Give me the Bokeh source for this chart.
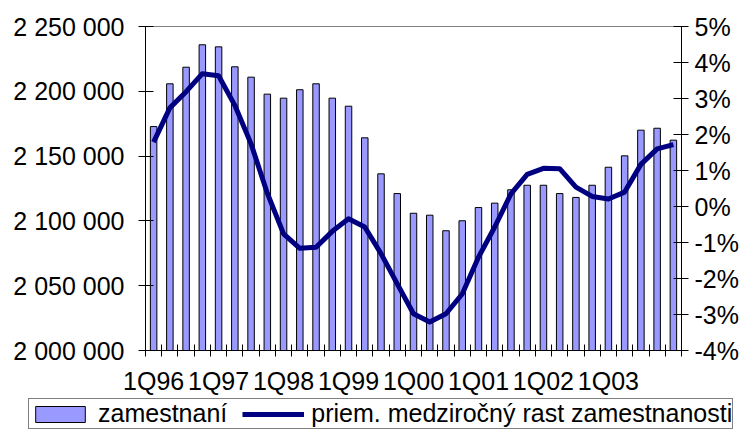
from bokeh.plotting import figure
from bokeh.layouts import column
from bokeh.models import (Range1d, LinearAxis, FixedTicker, Legend, LegendItem,
                          ColumnDataSource)
from bokeh.embed import file_html
from bokeh.resources import INLINE

# ---------------- data ----------------
years = ["96", "97", "98", "99", "00", "01", "02", "03", "04"]
quarters = [f"{q}Q{y}" for y in years for q in range(1, 5)][:33]

employed = [2172800, 2205800, 2218600, 2235900, 2234300, 2218900, 2210900,
            2197800, 2194700, 2201200, 2205800, 2194700, 2188500, 2164100,
            2136300, 2121100, 2105900, 2104400, 2092400, 2100100, 2110300,
            2113700, 2124000, 2127500, 2127500, 2121100, 2118100, 2127500,
            2141400, 2150200, 2170000, 2171500, 2162300]

growth = [1.79, 2.74, 3.19, 3.69, 3.63, 2.81, 1.74, 0.37, -0.76, -1.16,
          -1.13, -0.69, -0.34, -0.57, -1.31, -2.15, -2.98, -3.21, -2.98,
          -2.43, -1.41, -0.57, 0.35, 0.89, 1.06, 1.05, 0.54, 0.28, 0.21,
          0.40, 1.17, 1.60, 1.72]

label_quarters = ["1Q96", "1Q97", "1Q98", "1Q99", "1Q00", "1Q01", "1Q02", "1Q03"]

left_ticks = [2000000, 2050000, 2100000, 2150000, 2200000, 2250000]
left_labels = ["2 000 000", "2 050 000", "2 100 000", "2 150 000",
               "2 200 000", "2 250 000"]
right_ticks = [-4, -3, -2, -1, 0, 1, 2, 3, 4, 5]
right_labels = ["-4%", "-3%", "-2%", "-1%", "0%", "1%", "2%", "3%", "4%", "5%"]

series_bar = "zamestnaní"
series_line = "priem. medziročný rast zamestnanosti"

# ---------------- styles ----------------
FONT = "Liberation Sans"
BAR_FILL = "#9999FF"
LINE_COLOR = "#000080"
W = 741

# ---------------- main chart ----------------
n = len(quarters)
xs = [i + 0.5 for i in range(n)]
src = ColumnDataSource(data=dict(x=xs, employed=employed, growth=growth,
                                 q=quarters))

p = figure(width=W, height=397, output_backend="svg", toolbar_location=None,
           x_range=Range1d(0, n), y_range=Range1d(2000000, 2250000),
           min_border_left=145, min_border_right=58, min_border_top=26,
           min_border_bottom=47)
p.frame_align = False
p.background_fill_color = "white"
p.border_fill_color = "white"
p.outline_line_color = "#808080"
p.xgrid.visible = False
p.ygrid.visible = False

p.extra_y_ranges = {"pct": Range1d(-4, 5)}

p.vbar(x="x", top="employed", bottom=2000000, width=0.4,
       fill_color=BAR_FILL, line_color="black", line_width=1, source=src)
p.line(x="x", y="growth", y_range_name="pct", line_color=LINE_COLOR,
       line_width=5, line_join="round", source=src)

# x axis
xa = p.xaxis[0]
tick_pos = [xs[quarters.index(q)] for q in label_quarters]
xa.ticker = FixedTicker(ticks=tick_pos, minor_ticks=list(range(n + 1)))
xa.major_label_overrides = {t: l for t, l in zip(tick_pos, label_quarters)}
xa.major_tick_in = 0
xa.major_tick_out = 0
xa.minor_tick_in = 6
xa.minor_tick_out = 6
xa.minor_tick_line_color = "black"
xa.major_label_standoff = 10

# left axis
ya = p.yaxis[0]
ya.ticker = FixedTicker(ticks=left_ticks)
ya.major_label_overrides = {t: l for t, l in zip(left_ticks, left_labels)}
ya.major_tick_in = 8
ya.major_tick_out = 7
ya.minor_tick_line_color = None
ya.major_label_standoff = 14

# right axis
ra = LinearAxis(y_range_name="pct", ticker=FixedTicker(ticks=right_ticks))
ra.major_label_overrides = {t: l for t, l in zip(right_ticks, right_labels)}
ra.major_tick_in = 8
ra.major_tick_out = 7
ra.minor_tick_line_color = None
ra.major_label_standoff = 6
p.add_layout(ra, "right")

for ax in (xa, ya, ra):
    ax.axis_line_color = "black"
    ax.major_tick_line_color = "black"
    ax.major_label_text_font = FONT
    ax.major_label_text_font_size = "25px"
    ax.major_label_text_color = "black"

# ---------------- legend strip ----------------
lg = figure(width=W, height=33, output_backend="svg", toolbar_location=None,
            x_range=Range1d(0, 1), y_range=Range1d(0, 1),
            x_axis_type=None, y_axis_type=None,
            min_border_left=0, min_border_right=0, min_border_top=0,
            min_border_bottom=0)
lg.frame_align = False
lg.outline_line_color = None
lg.xgrid.visible = False
lg.ygrid.visible = False
# off-screen sample glyphs that only provide the legend swatches
swatch = ColumnDataSource(data=dict(x=[5, 6], top=[5, 5], y=[5, 5]))
lbar = lg.vbar(x="x", top="top", bottom=4, width=0.1, fill_color=BAR_FILL,
               line_color="black", line_width=1, source=swatch)
lline = lg.line(x="x", y="y", line_color=LINE_COLOR, line_width=5,
                source=swatch)

legend = Legend(items=[LegendItem(label=series_bar, renderers=[lbar]),
                       LegendItem(label=series_line, renderers=[lline])],
                location=(28, 1), orientation="horizontal",
                glyph_width=62, glyph_height=20, label_standoff=7,
                spacing=15, padding=0, margin=0,
                border_line_color="black", border_line_width=1,
                background_fill_color="white", background_fill_alpha=1,
                label_text_font=FONT, label_text_font_size="25px",
                label_text_color="black")
lg.add_layout(legend)

layout = column(p, lg, spacing=0)
open("out.html", "w").write(file_html(layout, INLINE))
